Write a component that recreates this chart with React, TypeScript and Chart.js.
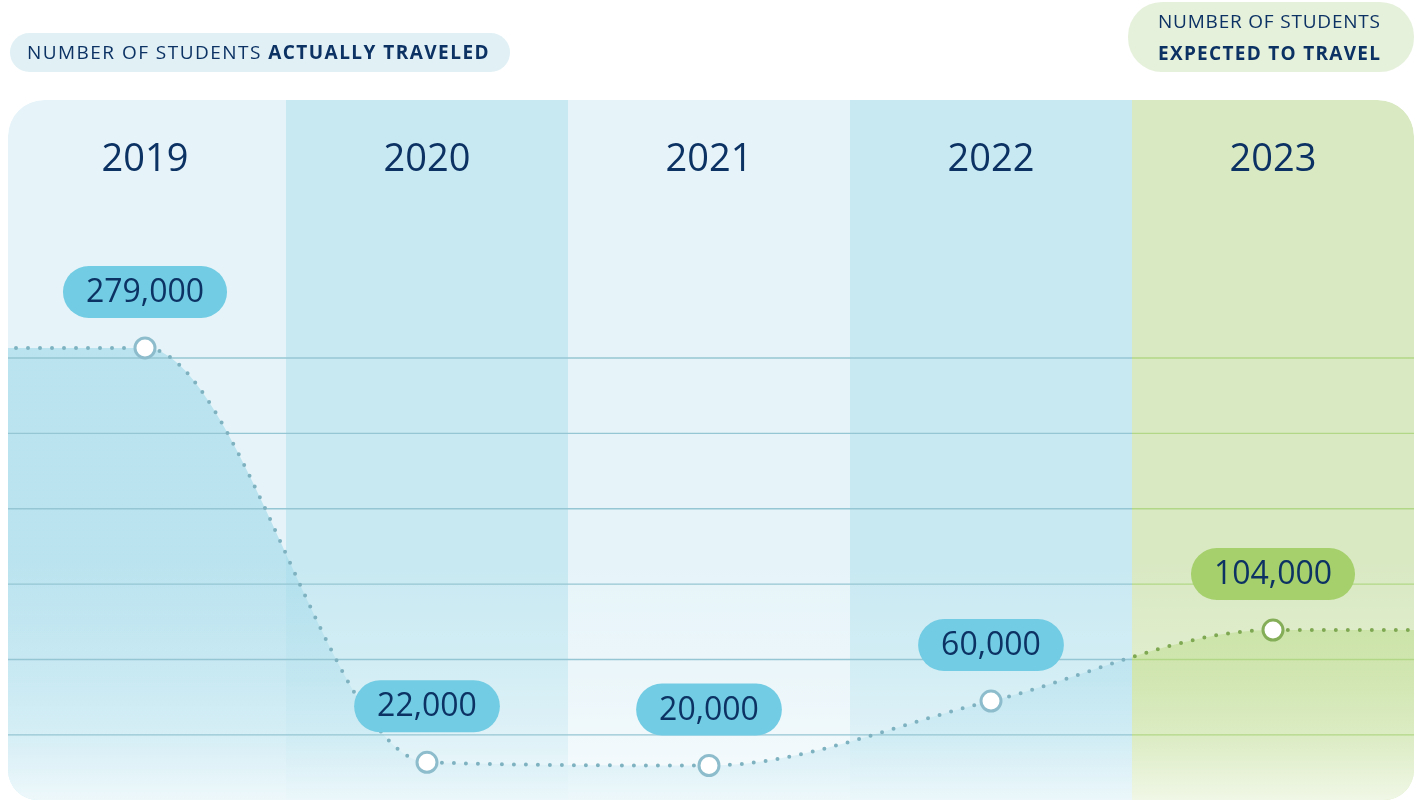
import { useEffect, useRef } from 'react';
import { Chart, registerables } from 'chart.js';

Chart.register(...registerables);

// ---- data ----
const years = ['2019', '2020', '2021', '2022', '2023'];
const students = [279000, 22000, 20000, 60000, 104000];
const expectedFromIndex = 4; // 2023 is a projection
const actualLegend = ['NUMBER OF STUDENTS ', 'ACTUALLY TRAVELED'];
const expectedLegend = ['NUMBER OF STUDENTS', 'EXPECTED TO TRAVEL'];
const yMin = -1400;
const yMax = 432800;
const gridStart = 39000;
const gridStep = 46750;

// ---- style ----
const NAVY = '#0c3264';
const FONT = "'Open Sans', 'Noto Sans', sans-serif";
const BAND_LIGHT = '#e6f4f9';
const BAND_DARK = '#c8e9f2';
const BAND_GREEN = '#d9e9c2';
const LINE_BLUE = '#7fb2c1';
const LINE_GREEN = '#7fa852';
const FILL_BLUE = 'rgba(167,220,235,0.7)';
const FILL_GREEN = 'rgba(187,219,139,0.7)';
const GRID_BLUE = '#95c6d3';
const GRID_GREEN = '#b2d887';
const PILL_BLUE = '#72cce3';
const PILL_GREEN = '#a5d06c';

function splitGradient(chart: any, c1: string, c2: string) {
  const { ctx, chartArea, scales } = chart;
  if (!chartArea || !scales || !scales.x) return c1;
  const bx = scales.x.getPixelForValue(expectedFromIndex - 0.5);
  const g = ctx.createLinearGradient(chartArea.left, 0, chartArea.right, 0);
  const t = Math.min(1, Math.max(0, (bx - chartArea.left) / (chartArea.right - chartArea.left)));
  g.addColorStop(0, c1);
  g.addColorStop(t, c1);
  g.addColorStop(t, c2);
  g.addColorStop(1, c2);
  return g;
}

function panelPath(ctx: CanvasRenderingContext2D, l: number, t: number, r: number, b: number, rt: number, rb: number) {
  ctx.moveTo(l + rt, t);
  ctx.lineTo(r - rt, t);
  ctx.arcTo(r, t, r, t + rt, rt);
  ctx.lineTo(r, b - rb);
  ctx.arcTo(r, b, r - rb, b, rb);
  ctx.lineTo(l + rb, b);
  ctx.arcTo(l, b, l, b - rb, rb);
  ctx.lineTo(l, t + rt);
  ctx.arcTo(l, t, l + rt, t, rt);
  ctx.closePath();
}

function pill(ctx: CanvasRenderingContext2D, cx: number, cy: number, w: number, h: number, color: string) {
  const r = h / 2;
  ctx.beginPath();
  ctx.moveTo(cx - w / 2 + r, cy - r);
  ctx.lineTo(cx + w / 2 - r, cy - r);
  ctx.arc(cx + w / 2 - r, cy, r, -Math.PI / 2, Math.PI / 2);
  ctx.lineTo(cx - w / 2 + r, cy + r);
  ctx.arc(cx - w / 2 + r, cy, r, Math.PI / 2, (3 * Math.PI) / 2);
  ctx.closePath();
  ctx.fillStyle = color;
  ctx.fill();
}

function panelBox(chart: any) {
  const a = chart.chartArea;
  return { L: a.left + 4, R: a.right, T: a.top, B: a.bottom };
}

const panelPlugin = {
  id: 'panelPlugin',
  beforeDraw(chart: any) {
    const { ctx } = chart;
    const x = chart.scales.x;
    const { L, R, T, B } = panelBox(chart);
    ctx.save();
    ctx.beginPath();
    panelPath(ctx, L, T, R, B, 36, 30);
    ctx.clip();
    years.forEach((_, i) => {
      const x0 = i === 0 ? L : x.getPixelForValue(i - 0.5);
      const x1 = i === years.length - 1 ? R : x.getPixelForValue(i + 0.5);
      ctx.fillStyle = i >= expectedFromIndex ? BAND_GREEN : i % 2 ? BAND_DARK : BAND_LIGHT;
      ctx.fillRect(x0, T, x1 - x0, B - T);
    });
    ctx.restore();

    ctx.save();
    ctx.fillStyle = NAVY;
    ctx.font = `38px ${FONT}`;
    ctx.textAlign = 'center';
    ctx.textBaseline = 'middle';
    years.forEach((yr, i) => ctx.fillText(yr, x.getPixelForValue(i), T + 60));
    ctx.restore();
  },
  beforeDatasetDraw(chart: any) {
    const { ctx } = chart;
    const yScale = chart.scales.y;
    const { L, R, T, B } = panelBox(chart);
    // soft white fade towards the bottom of the panel
    ctx.save();
    ctx.beginPath();
    panelPath(ctx, L, T, R, B, 36, 30);
    ctx.clip();
    const g = ctx.createLinearGradient(0, B - 240, 0, B);
    g.addColorStop(0, 'rgba(255,255,255,0)');
    g.addColorStop(0.5, 'rgba(255,255,255,0.23)');
    g.addColorStop(0.75, 'rgba(255,255,255,0.42)');
    g.addColorStop(1, 'rgba(255,255,255,0.75)');
    ctx.fillStyle = g;
    ctx.fillRect(L, B - 240, R - L, 240);
    // horizontal grid lines
    ctx.lineWidth = 1.4;
    ctx.strokeStyle = splitGradient(chart, GRID_BLUE, GRID_GREEN);
    yScale.ticks.forEach((t: any) => {
      const py = yScale.getPixelForValue(t.value);
      ctx.beginPath();
      ctx.moveTo(L, py);
      ctx.lineTo(R, py);
      ctx.stroke();
    });
    ctx.restore();
  },
  afterDatasetsDraw(chart: any) {
    const { ctx, width, height } = chart;
    const { L, R, T, B } = panelBox(chart);
    ctx.save();
    ctx.beginPath();
    ctx.rect(0, 0, width, height);
    panelPath(ctx, L, T, R, B, 36, 30);
    ctx.fillStyle = '#ffffff';
    ctx.fill('evenodd');
    ctx.restore();
  },
  afterDraw(chart: any) {
    const { ctx } = chart;
    const x = chart.scales.x;
    const { R } = panelBox(chart);
    const meta = chart.getDatasetMeta(0);

    // value pills
    ctx.save();
    ctx.font = `32px ${FONT}`;
    ctx.textAlign = 'center';
    ctx.textBaseline = 'middle';
    students.forEach((v, i) => {
      const el = meta.data[i + 1];
      if (!el) return;
      const text = v.toLocaleString('en-US');
      const w = ctx.measureText(text).width + 46;
      const cy = el.y - 56;
      pill(ctx, el.x, cy, w, 52, i >= expectedFromIndex ? PILL_GREEN : PILL_BLUE);
      ctx.fillStyle = NAVY;
      ctx.fillText(text, el.x, cy + 1);
    });
    ctx.restore();

    // legend pill: actual
    ctx.save();
    pill(ctx, 260, 52.5, 500, 39, '#e0f0f5');
    ctx.textBaseline = 'middle';
    ctx.textAlign = 'left';
    ctx.fillStyle = NAVY;
    const regular = `19px ${FONT}`;
    const bold = `bold 19px ${FONT}`;
    ctx.font = regular;
    const w1 = ctx.measureText(actualLegend[0]).width;
    ctx.font = bold;
    const w2 = ctx.measureText(actualLegend[1]).width;
    const n = actualLegend[0].length + actualLegend[1].length;
    const sp = Math.max(0, (463 - w1 - w2) / n);
    (ctx as any).letterSpacing = `${sp}px`;
    ctx.font = regular;
    ctx.fillText(actualLegend[0], 27, 54);
    ctx.font = bold;
    ctx.fillText(actualLegend[1], 27 + w1 + sp * actualLegend[0].length, 54);
    ctx.restore();

    // legend pill: expected
    ctx.save();
    const gx0 = x.getPixelForValue(expectedFromIndex - 0.5) - 4;
    const gx1 = R;
    const gcx = (gx0 + gx1) / 2;
    ctx.beginPath();
    const rr = 34;
    ctx.moveTo(gx0 + rr, 2);
    ctx.lineTo(gx1 - rr, 2);
    ctx.arcTo(gx1, 2, gx1, 2 + rr, rr);
    ctx.arcTo(gx1, 72, gx1 - rr, 72, rr);
    ctx.lineTo(gx0 + rr, 72);
    ctx.arcTo(gx0, 72, gx0, 72 - rr, rr);
    ctx.arcTo(gx0, 2, gx0 + rr, 2, rr);
    ctx.closePath();
    ctx.fillStyle = '#e6f1dc';
    ctx.fill();
    ctx.fillStyle = NAVY;
    ctx.textBaseline = 'middle';
    ctx.textAlign = 'left';
    [regular, bold].forEach((f, li) => {
      ctx.font = f;
      (ctx as any).letterSpacing = '0px';
      const txt = expectedLegend[li];
      const nat = ctx.measureText(txt).width;
      const s = Math.max(0, (222 - nat) / (txt.length - 1));
      (ctx as any).letterSpacing = `${s}px`;
      ctx.fillText(txt, gcx - 2 - 111, li === 0 ? 23 : 55);
    });
    ctx.restore();
  },
};

export default function App() {
  const canvasRef = useRef<HTMLCanvasElement | null>(null);

  useEffect(() => {
    if (!canvasRef.current) return;
    const last = students.length - 1;
    const points = [
      { x: -0.5, y: students[0] },
      ...students.map((v, i) => ({ x: i, y: v })),
      { x: years.length - 0.5, y: students[last] },
    ];
    const chart = new Chart(canvasRef.current, {
      type: 'line',
      data: {
        datasets: [
          {
            data: points,
            borderColor: (c: any) => splitGradient(c.chart, LINE_BLUE, LINE_GREEN),
            backgroundColor: (c: any) => splitGradient(c.chart, FILL_BLUE, FILL_GREEN),
            borderWidth: 4,
            borderDash: [0, 12],
            borderCapStyle: 'round',
            cubicInterpolationMode: 'monotone',
            fill: 'start',
            pointRadius: (c: any) => (c.dataIndex === 0 || c.dataIndex === points.length - 1 ? 0 : 10),
            pointHoverRadius: 10,
            pointBackgroundColor: '#ffffff',
            pointBorderColor: (c: any) => (c.dataIndex - 1 >= expectedFromIndex ? '#85ae58' : '#8dbdcc'),
            pointBorderWidth: 3,
          } as any,
        ],
      },
      options: {
        animation: false,
        responsive: true,
        maintainAspectRatio: false,
        events: [],
        layout: { padding: { left: 4, right: 10, top: 100, bottom: 0 } },
        scales: {
          x: { type: 'linear', min: -0.5, max: years.length - 0.5, display: false },
          y: {
            type: 'linear',
            min: yMin,
            max: yMax,
            display: false,
            afterBuildTicks: (s: any) => {
              const top = Math.max(...students);
              const ticks: { value: number }[] = [];
              for (let v = gridStart; v <= top; v += gridStep) ticks.push({ value: v });
              s.ticks = ticks;
            },
          },
        },
        plugins: {
          legend: { display: false },
          tooltip: { enabled: false },
        },
      },
      plugins: [panelPlugin],
    } as any);
    return () => chart.destroy();
  }, []);

  return (
    <div style={{ position: 'fixed', left: 0, top: 0, width: 1424, height: 800, background: '#ffffff' }}>
      <canvas ref={canvasRef} />
    </div>
  );
}
